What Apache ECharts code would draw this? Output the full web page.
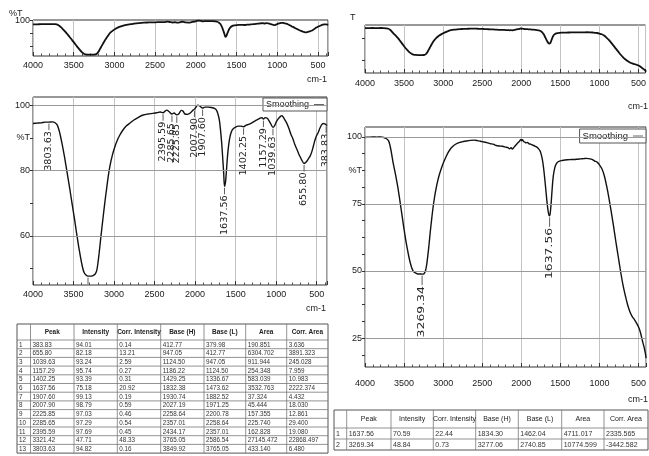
<!DOCTYPE html>
<html><head><meta charset="utf-8">
<script src="https://cdn.jsdelivr.net/npm/echarts@6/dist/echarts.min.js"></script>
<style>html,body{margin:0;padding:0;background:#fff}#c{width:649px;height:456px}</style>
</head><body><div id="c"></div>
<script>
// ---------- spectrum 1 (left) ----------
const leftWn = [4000,3950,3900,3850,3803.63,3760,3732,3700,3670,3640,3610,3580,3550,3520,3490,3460,3430,3400,3370,3340,3321.42,3290,3260,3235,3215,3200,3185,3170,3150,3130,3110,3090,3070,3050,3020,2990,2960,2930,2890,2850,2800,2760,2700,2640,2580,2520,2470,2430,2395.59,2370,2350,2320,2285.65,2260,2225.85,2200,2170,2150,2126,2090,2060,2030,2007.9,1985,1965,1940,1907.6,1880,1840,1800,1760,1735,1715,1700,1685,1672,1660,1648,1637.56,1625,1612,1600,1585,1570,1550,1530,1500,1470,1440,1402.25,1370,1340,1300,1260,1220,1190,1175,1157.29,1135,1110,1090,1065,1039.63,1020,1000,975,950,932,915,895,870,845,820,795,770,745,720,700,680,655.8,630,605,580,560,540,520,500,484,460,440,420,400,383.83,373];
const leftT  = [94.4,94.5,94.6,94.8,94.82,94.9,94.7,93.9,91.5,88.0,84.0,79.5,75.0,70.2,65.5,60.5,55.8,51.7,48.8,47.9,47.71,47.7,47.9,48.3,49.3,51.5,54.5,58.0,62.5,66.8,71.0,74.8,78.5,81.5,84.8,87.3,89.3,90.8,92.4,93.6,94.6,95.4,96.3,97.0,97.3,97.5,97.7,97.9,97.69,98.2,98.5,98.0,97.29,97.6,97.03,97.4,98.4,98.2,97.3,97.2,97.6,98.4,98.79,99.6,100.0,99.7,99.13,99.4,99.4,99.3,99.0,98.4,97.0,95.3,92.0,88.3,84.0,79.5,75.18,76.5,80.5,84.5,88.0,90.3,92.0,92.8,93.3,93.6,93.6,93.39,93.9,94.1,94.6,95.2,95.7,96.1,96.2,95.74,96.2,96.0,95.3,94.2,93.24,93.7,94.8,95.8,96.5,96.8,96.4,95.6,94.5,93.0,91.2,89.8,88.0,86.5,85.0,84.0,83.0,82.18,82.6,83.5,84.5,85.8,87.6,89.4,90.8,91.5,93.0,94.0,94.4,94.3,94.01,93.8];

// ---------- spectrum 2 (right) ----------
const rightWn = [4000,3950,3900,3850,3800,3760,3730,3700,3680,3660,3640,3620,3600,3580,3560,3540,3520,3500,3480,3460,3440,3420,3400,3380,3350,3320,3290,3269.34,3245,3225,3210,3195,3180,3165,3150,3130,3110,3090,3070,3050,3020,2990,2960,2930,2900,2860,2820,2780,2740,2700,2650,2600,2560,2520,2480,2440,2400,2360,2320,2280,2240,2200,2170,2150,2130,2115,2100,2080,2060,2040,2020,2005,1995,1985,1970,1955,1940,1920,1900,1880,1860,1840,1820,1800,1780,1760,1745,1730,1715,1700,1685,1670,1655,1645,1637.56,1630,1620,1610,1600,1590,1575,1560,1540,1510,1480,1440,1400,1360,1320,1280,1240,1200,1160,1120,1090,1060,1030,1000,970,940,910,880,850,820,790,760,730,700,670,640,610,580,550,520,490,470,450,430,410,403];
const rightT  = [99.8,99.9,100.0,99.9,100.0,99.8,99.4,98.6,96.8,93.8,90.3,87.5,84.5,81.3,77.5,73.5,69.5,65.5,61.8,58.5,55.5,53.0,51.0,49.8,49.2,48.9,48.9,48.84,49.0,50.2,52.5,56.0,60.0,64.5,68.5,73.5,77.5,80.8,83.5,85.8,88.5,90.8,92.8,94.5,95.8,96.9,97.6,98.0,98.3,98.5,98.7,98.8,98.6,98.4,98.1,97.9,97.5,97.3,96.8,96.6,96.5,96.2,96.0,95.6,96.0,95.5,95.9,96.6,97.3,97.9,98.5,99.1,98.6,99.0,98.3,98.1,97.8,97.9,97.4,97.3,97.0,96.8,96.5,96.2,95.6,94.8,93.5,91.5,88.5,84.5,80.0,75.5,72.0,70.8,70.59,71.5,74.5,78.5,82.5,85.5,88.0,89.5,90.5,91.0,91.2,91.4,91.5,91.6,91.6,91.7,91.8,91.9,92.0,91.8,91.5,91.0,90.6,89.6,88.2,85.8,82.0,77.5,72.3,66.8,61.0,55.5,50.0,45.0,41.0,37.5,34.8,33.0,31.8,30.3,28.5,26.5,24.0,21.8,19.0,17.5];

// ---------- peak tables ----------
const tableHeaders = ['', 'Peak', 'Intensity', 'Corr. Intensity', 'Base (H)', 'Base (L)', 'Area', 'Corr. Area'];
const leftPeak      = [383.83, 655.80, 1039.63, 1157.29, 1402.25, 1637.56, 1907.60, 2007.90, 2225.85, 2285.65, 2395.59, 3321.42, 3803.63];
const leftIntensity = [94.01, 82.18, 93.24, 95.74, 93.39, 75.18, 99.13, 98.79, 97.03, 97.29, 97.69, 47.71, 94.82];
const leftCorrInt   = ['0.14','13.21','2.59','0.27','0.31','20.92','0.19','0.59','0.46','0.54','0.45','48.33','0.16'];
const leftBaseH     = ['412.77','947.05','1124.50','1186.22','1429.25','1832.38','1930.74','2027.19','2258.64','2357.01','2434.17','3765.05','3849.92'];
const leftBaseL     = ['379.98','412.77','947.05','1124.50','1336.67','1473.62','1882.52','1971.25','2200.78','2258.64','2357.01','2586.54','3765.05'];
const leftArea      = ['190.851','6304.702','911.944','254.348','583.039','3532.763','37.324','45.444','157.355','225.740','162.828','27145.472','433.140'];
const leftCorrArea  = ['3.636','3891.323','245.028','7.959','10.983','2222.374','4.432','18.030','12.861','29.400','19.080','22868.497','6.480'];

const rightPeak      = [1637.56, 3269.34];
const rightIntensity = [70.59, 48.84];
const rightCorrInt   = ['22.44','0.73'];
const rightBaseH     = ['1834.30','3277.06'];
const rightBaseL     = ['1462.04','2740.85'];
const rightArea      = ['4711.017','10774.599'];
const rightCorrArea  = ['2335.565','-3442.582'];

const NARROW = "'Liberation Sans Narrow','Liberation Sans',Arial,sans-serif";
const INK = '#1a1a1a';

function toXY(wn, t){ return wn.map((w,i)=>[-w, t[i]]); }

function xAxisCfg(gi, maxWn, margin){
  return {
    type:'value', gridIndex:gi, min:-4000, max:-maxWn, interval:500,
    axisLine:{show:false},
    axisTick:{show:true, inside:true, length:4, lineStyle:{color:'#333'}},
    minorTick:{show:true, splitNumber:5, length:2.5, lineStyle:{color:'#555'}},
    axisLabel:{formatter:v=>String(-v), showMaxLabel:false, margin:margin, color:INK, fontSize:9, fontFamily:NARROW},
    splitLine:{show:true, lineStyle:{color:'#c4c4c4', width:1}}
  };
}

function yAxisCfg(gi, min, max, ticks, labels, labelMap){
  return {
    type:'value', gridIndex:gi, min:min, max:max,
    axisLine:{show:false},
    axisTick:{show:true, length:3, customValues:ticks, lineStyle:{color:'#333'}},
    axisLabel:{show:labels.length>0, customValues:labels, margin:3, color:INK, fontSize:9, fontFamily:NARROW,
      formatter:v=> (labelMap && labelMap[v]!==undefined) ? labelMap[v] : String(v)},
    splitLine:{show:false}
  };
}

function peakSeries(name, xi, yi, peaks, ints, fontSize, sx, gap){
  return {
    type:'custom', name:name, xAxisIndex:xi, yAxisIndex:yi, clip:true, silent:true, z:5,
    data: peaks.map((p,i)=>[-p, ints[i]]),
    renderItem:(params, api)=>{
      const i = params.dataIndex;
      const p = api.coord([api.value(0), api.value(1)]);
      return {type:'group', children:[
        {type:'line', shape:{x1:p[0], y1:p[1]+1.5, x2:p[0], y2:p[1]+gap}, style:{stroke:'#333', lineWidth:0.8}},
        {type:'text', x:p[0], y:p[1]+gap+1, rotation:Math.PI/2, scaleX:sx, scaleY:1,
          style:{text:peaks[i].toFixed(2), fontSize:fontSize, fontFamily:'DejaVu Sans', fill:'#222', align:'right', verticalAlign:'middle'}}
      ]};
    }
  };
}

function gridLines(vals){
  return {silent:true, symbol:'none', label:{show:false}, animation:false,
    lineStyle:{color:'#9a9a9a', width:1, type:'solid'}, data: vals.map(v=>({yAxis:v}))};
}

function buildTable(cols, top, headH, rowH, nRows, cellsFn, headFont, bodyFont, headBold){
  const els = [];
  const left = cols[0], right = cols[cols.length-1];
  const bottom = top + headH + rowH*nRows;
  els.push({type:'rect', shape:{x:left, y:top, width:right-left, height:bottom-top}, style:{fill:'#fff', stroke:'#555', lineWidth:1}});
  for (let c=1;c<cols.length-1;c++) els.push({type:'line', shape:{x1:cols[c], y1:top, x2:cols[c], y2:bottom}, style:{stroke:'#777', lineWidth:0.8}});
  for (let r=0;r<nRows;r++){
    const y = top+headH+rowH*r;
    els.push({type:'line', shape:{x1:left, y1:y, x2:right, y2:y}, style:{stroke:'#777', lineWidth:0.8}});
  }
  for (let c=0;c<cols.length-1;c++){
    els.push({type:'text', x:(cols[c]+cols[c+1])/2, y:top+headH/2, style:{text:tableHeaders[c], fontSize:headFont, fontWeight:headBold?'bold':'normal', fontFamily:NARROW, fill:'#222', align:'center', verticalAlign:'middle'}});
  }
  for (let r=0;r<nRows;r++){
    const cells = cellsFn(r);
    for (let c=0;c<cells.length;c++){
      els.push({type:'text', x:cols[c]+2, y:top+headH+rowH*r+rowH/2+0.5, style:{text:cells[c], fontSize:bodyFont, fontFamily:NARROW, fill:'#333', align:'left', verticalAlign:'middle'}});
    }
  }
  return els;
}

const leftCells = r => [String(r+1), leftPeak[r].toFixed(2), leftIntensity[r].toFixed(2), leftCorrInt[r], leftBaseH[r], leftBaseL[r], leftArea[r], leftCorrArea[r]];
const rightCells = r => [String(r+1), rightPeak[r].toFixed(2), rightIntensity[r].toFixed(2), rightCorrInt[r], rightBaseH[r], rightBaseL[r], rightArea[r], rightCorrArea[r]];

const graphics = [].concat(
  buildTable([17,30.5,74,117.3,160.7,204,245.7,286.7,328], 324, 16, 8.7, leftPeak.length, leftCells, 6.5, 6.3, true),
  buildTable([334,346.7,391,433.3,475.7,518.3,561.7,604,648], 410, 18, 11, rightPeak.length, rightCells, 7, 7, false),
  [
    {type:'text', x:9, y:9, style:{text:'%T', fontSize:9, fontFamily:NARROW, fill:INK}},
    {type:'text', x:327, y:75, style:{text:'cm-1', fontSize:9, fontFamily:NARROW, fill:INK, align:'right'}},
    {type:'text', x:326, y:304, style:{text:'cm-1', fontSize:9, fontFamily:NARROW, fill:INK, align:'right'}},
    {type:'text', x:350, y:13, style:{text:'T', fontSize:9, fontFamily:NARROW, fill:INK}},
    {type:'text', x:648, y:102, style:{text:'cm-1', fontSize:9, fontFamily:NARROW, fill:INK, align:'right'}},
    {type:'text', x:648, y:395, style:{text:'cm-1', fontSize:9, fontFamily:NARROW, fill:INK, align:'right'}}
  ]
);

const chart = echarts.init(document.getElementById('c'), null, {renderer:'canvas'});
chart.setOption({
  animation:false,
  backgroundColor:'#fff',
  grid:[
    {left:33, top:20, width:295, height:36, show:true, borderColor:'#333', borderWidth:1, backgroundColor:'transparent'},
    {left:33, top:97, width:294, height:188, show:true, borderColor:'#333', borderWidth:1, backgroundColor:'transparent'},
    {left:365, top:25, width:282, height:48, show:true, borderColor:'#333', borderWidth:1, backgroundColor:'transparent'},
    {left:365, top:127, width:283, height:240, show:true, borderColor:'#333', borderWidth:1, backgroundColor:'transparent'}
  ],
  xAxis:[
    xAxisCfg(0, 376, 5),
    xAxisCfg(1, 373, 5),
    xAxisCfg(2, 410, 6),
    xAxisCfg(3, 403, 12)
  ],
  yAxis:[
    yAxisCfg(0, 45.7, 101.1, [60,80,100], [100]),
    yAxisCfg(1, 45, 102.5, [50,60,70,80,90,100], [60,80,90,100], {90:'%T'}),
    yAxisCfg(2, 15, 105.7, [40,80], []),
    yAxisCfg(3, 14.2, 103.7, [18.75,25,31.25,37.5,43.75,50,56.25,62.5,68.75,75,81.25,87.5,93.75,100], [25,50,75,87.5,100], {87.5:'%T'})
  ],
  legend:[
    {data:['Smoothing'], right:322, top:98, align:'right', icon:'rect', itemWidth:10, itemHeight:1, itemGap:4, padding:[2,3,2,3],
     borderColor:'#555', borderWidth:1, backgroundColor:'#fff', selectedMode:false,
     textStyle:{fontSize:9, fontFamily:NARROW, color:INK}},
    {data:['Smoothing'], right:3, top:129, align:'right', icon:'rect', itemWidth:10, itemHeight:1, itemGap:4, padding:[2,3,2,3],
     borderColor:'#555', borderWidth:1, backgroundColor:'#fff', selectedMode:false,
     textStyle:{fontSize:9.5, fontFamily:NARROW, color:INK}}
  ],
  series:[
    {type:'line', name:'overview1', xAxisIndex:0, yAxisIndex:0, data:toXY(leftWn,leftT), showSymbol:false, smooth:0.3, silent:true,
     lineStyle:{color:'#111', width:1.8}},
    {type:'line', name:'Smoothing', xAxisIndex:1, yAxisIndex:1, data:toXY(leftWn,leftT), showSymbol:false, smooth:0.3, silent:true,
     itemStyle:{color:'#666'}, lineStyle:{color:'#111', width:1.4}, markLine:gridLines([60,80,100])},
    {type:'line', name:'overview2', xAxisIndex:2, yAxisIndex:2, data:toXY(rightWn,rightT), showSymbol:false, smooth:0.3, silent:true,
     lineStyle:{color:'#111', width:1.8}},
    {type:'line', name:'Smoothing', xAxisIndex:3, yAxisIndex:3, data:toXY(rightWn,rightT), showSymbol:false, smooth:0.3, silent:true,
     itemStyle:{color:'#666'}, lineStyle:{color:'#111', width:1.4}, markLine:gridLines([25,50,75,100])},
    peakSeries('peaks1', 1, 1, leftPeak, leftIntensity, 8, 1.2, 8),
    peakSeries('peaks2', 3, 3, rightPeak, rightIntensity, 8, 1.55, 11)
  ],
  graphic: graphics
});
</script>
</body></html>
